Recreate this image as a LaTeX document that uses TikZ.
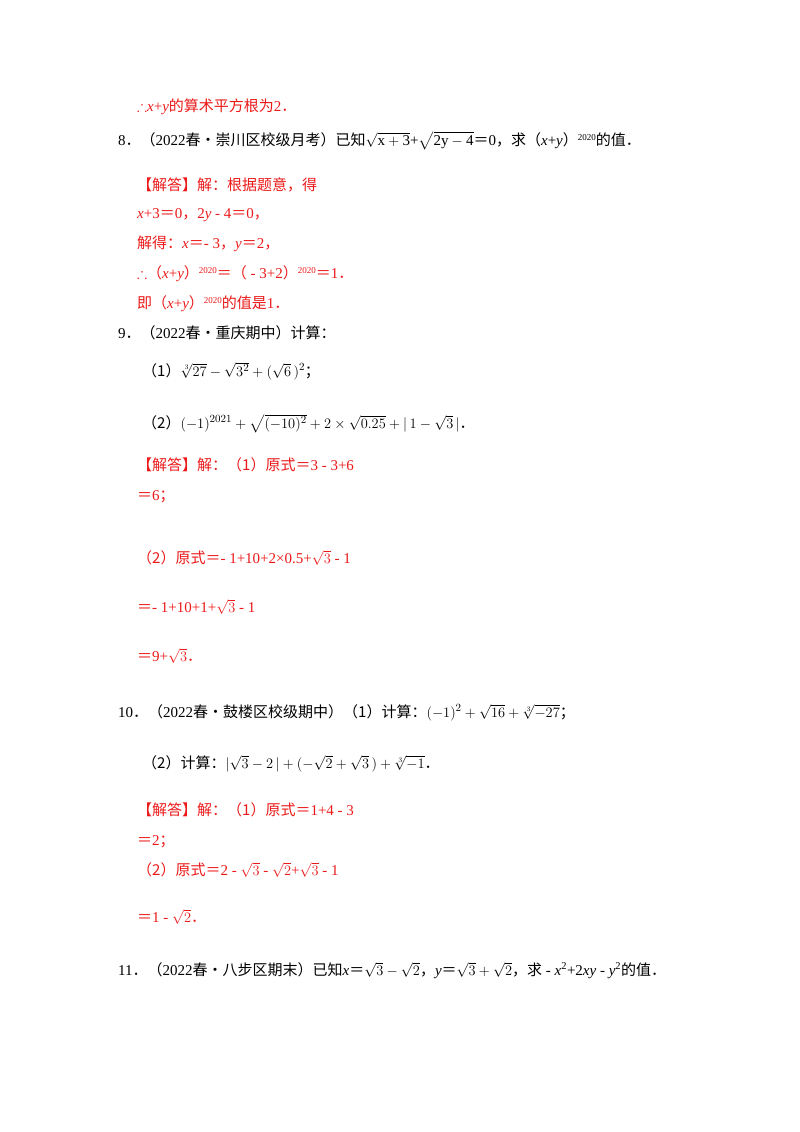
\documentclass[tikz,border=0pt]{standalone}
\usepackage{amssymb}
\usepackage{fontspec}
\setmainfont{Liberation Serif}
\newfontfamily\cjk{Noto Sans CJK SC}
\newcommand{\cj}[1]{{\cjk #1}}
\newcommand{\EQ}{\cj{＝}}
\newcommand{\PD}{\cj{．}}
\newcommand{\SUP}[1]{\raisebox{5pt}{\fontsize{9}{9}\selectfont #1}}
\definecolor{ans}{RGB}{235,25,25}
\begin{document}
\begin{tikzpicture}[x=1pt,y=-1pt,
  t/.style={anchor=base west,inner sep=0pt,font=\fontsize{15}{17}\selectfont},
  r/.style={t,text=ans}]
\useasboundingbox (0,0) rectangle (800,1132);
\node[r] (l1) at (137,111) {$\therefore$\textit{x}+\textit{y}\cj{的算术平方根为}2\PD};
\node[t] (l2) at (118,145) {8\PD\cj{（}2022\cj{春•崇川区校级月考）已知}$\sqrt{\mathrm{x+3}}$+$\sqrt{\mathrm{2y-4}}$\EQ0\cj{，求（}\textit{x}+\textit{y}\cj{）}\SUP{2020}\cj{的值}\PD};
\node[r] (l3) at (137,190) {\cj{【解答】解：根据题意，得}};
\node[r] (l4) at (137,218) {\textit{x}+3\EQ0\cj{，}2\textit{y} - 4\EQ0\cj{，}};
\node[r] (l5) at (137,248) {\cj{解得：}\textit{x}\EQ - 3\cj{，}\textit{y}\EQ2\cj{，}};
\node[r] (l6) at (137,278) {$\therefore$\cj{（}\textit{x}+\textit{y}\cj{）}\SUP{2020}\EQ\cj{（} - 3+2\cj{）}\SUP{2020}\EQ1\PD};
\node[r] (l7) at (137,308) {\cj{即（}\textit{x}+\textit{y}\cj{）}\SUP{2020}\cj{的值是}1\PD};
\node[t] (l8) at (118,338) {9\PD\cj{（}2022\cj{春•重庆期中）计算：}};
\node[t] (l9) at (142,376) {\cj{（1）}$\sqrt[3]{27}-\sqrt{3^2}+(\sqrt{6}\,)^2$\cj{；}};
\node[t] (l10) at (142,428) {\cj{（2）}$(-1)^{2021}+\sqrt{(-10)^2}+2\times\sqrt{0.25}+|\,1-\sqrt{3}\,|$\PD};
\node[r] (l11) at (137,470) {\cj{【解答】解：（1）原式}\EQ3 - 3+6};
\node[r] (l12) at (137,500) {\EQ6\cj{；}};
\node[r] (l13) at (137,563) {\cj{（2）原式}\EQ - 1+10+2×0.5+$\sqrt{3}$ - 1};
\node[r] (l14) at (137,612) {\EQ - 1+10+1+$\sqrt{3}$ - 1};
\node[r] (l15) at (137,661) {\EQ9+$\sqrt{3}$\PD};
\node[t] (l16) at (118,717) {10\PD\cj{（}2022\cj{春•鼓楼区校级期中）（1）计算：}$(-1)^2+\sqrt{16}+\sqrt[3]{-27}$\cj{；}};
\node[t] (l17) at (142,768) {\cj{（2）计算：}$|\sqrt{3}-2\,|+(-\sqrt{2}+\sqrt{3}\,)+\sqrt[3]{-1}$\PD};
\node[r] (l18) at (137,815) {\cj{【解答】解：（1）原式}\EQ1+4 - 3};
\node[r] (l19) at (137,845) {\EQ2\cj{；}};
\node[r] (l20) at (137,875) {\cj{（2）原式}\EQ2 - $\sqrt{3}$ - $\sqrt{2}$+$\sqrt{3}$ - 1};
\node[r] (l21) at (137,922) {\EQ1 - $\sqrt{2}$\PD};
\node[t] (l22) at (118,975) {11\PD\cj{（}2022\cj{春•八步区期末）已知}\textit{x}\EQ$\sqrt{3}-\sqrt{2}$\cj{，}\textit{y}\EQ$\sqrt{3}+\sqrt{2}$\cj{，求} - \textit{x}\textsuperscript{2}+2\textit{xy} - \textit{y}\textsuperscript{2}\cj{的值}\PD};
\end{tikzpicture}
\end{document}
